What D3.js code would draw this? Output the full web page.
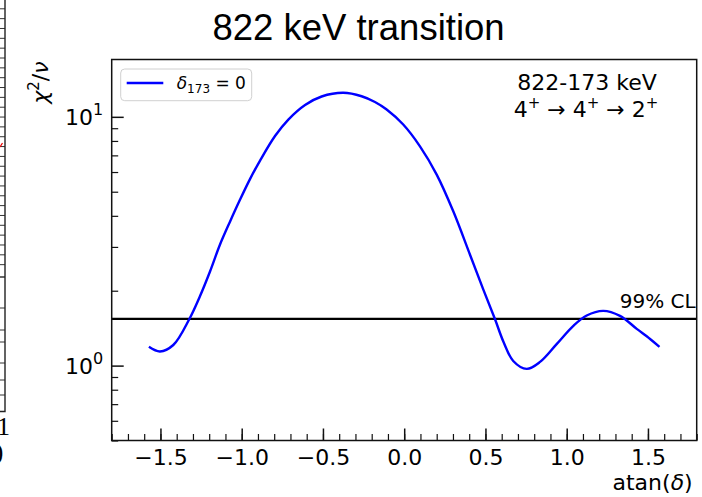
<!DOCTYPE html>
<html>
<head>
<meta charset="utf-8">
<script src="https://cdn.jsdelivr.net/npm/d3@7"></script>
<style>
  body { margin: 0; background: #fff; }
  svg { display: block; }
  text { font-family: "DejaVu Sans", sans-serif; fill: #000; }
</style>
</head>
<body>
<svg id="chart" width="702" height="497"></svg>
<script>
// chi^2 per degree of freedom versus mixing angle atan(delta) for the 822 keV line
const atanDelta = [-1.571, -1.503, -1.421, -1.322, -1.257, -1.195, -1.134, -1.072, -1.010, -0.949,
                   -0.887, -0.795, -0.713, -0.610, -0.508, -0.375, -0.262, -0.180, -0.108,
                   -0.006, 0.097, 0.200, 0.302, 0.405, 0.487, 0.559, 0.610, 0.671, 0.754,
                   0.836, 0.938, 1.041, 1.123, 1.225, 1.328, 1.431, 1.513, 1.571];
const chi2 = [1.19, 1.14, 1.21, 1.54, 1.90, 2.39, 3.06, 3.79, 4.65, 5.62,
              6.67, 8.37, 9.75, 11.16, 12.07, 12.49, 12.10, 11.47, 10.70,
              9.31, 7.61, 5.86, 4.17, 2.79, 2.02, 1.535, 1.25, 1.044, 0.97,
              1.035, 1.22, 1.445, 1.59, 1.66, 1.585, 1.405, 1.28, 1.19];
const confidenceLimit = 1.54;           // 99% CL level
const xTickValues = [-1.5, -1.0, -0.5, 0.0, 0.5, 1.0, 1.5];
const yMajorTicks = [1, 10];
const yMinorTicks = [0.5, 0.6, 0.7, 0.8, 0.9, 2, 3, 4, 5, 6, 7, 8, 9];
const xDomain = [-1.8, 1.8];
const yDomain = [0.5, 17];

const svg = d3.select("#chart");
const plotL = 111.7, plotR = 696.7, plotT = 59.5, plotB = 440.5;
const ink = "#111";

const x = d3.scaleLinear().domain(xDomain).range([plotL, plotR]);
const y = d3.scaleLog().domain(yDomain).range([plotB, plotT]);

// ---- sliver of the neighbouring panel on the far left ----
const nb = svg.append("g");
const nbScale = d3.scaleLinear().domain([0, 27]).range([8.3, 274]);
nb.append("g")
  .attr("transform", "translate(5,0)")
  .call(d3.axisRight(nbScale).tickValues(d3.range(0, 27)).tickSize(-5).tickFormat(""))
  .call(g => g.select(".domain").remove())
  .selectAll("line").attr("stroke", "#333").attr("stroke-width", 1);
const nbLower = [277, 308, 330, 342, 363, 380, 395];
nb.selectAll("line.low").data(nbLower).join("line")
  .attr("x1", (d, i) => i === 0 ? -5 : 0).attr("x2", 5)
  .attr("y1", d => d).attr("y2", d => d)
  .attr("stroke", "#333").attr("stroke-width", (d, i) => i === 0 ? 1.5 : 1);
nb.append("path").attr("d", "M5,0V411.5H0").attr("fill", "none").attr("stroke", "#222").attr("stroke-width", 1.4);
nb.append("line").attr("x1", 0).attr("x2", 2.5).attr("y1", 147).attr("y2", 143)
  .attr("stroke", "#e00").attr("stroke-width", 1.2);
nb.append("text").attr("x", 10).attr("y", 435).attr("text-anchor", "end")
  .style("font-family", "'Liberation Serif', serif").style("font-size", "26px").text("1");
nb.append("text").attr("x", 3.5).attr("y", 460).attr("text-anchor", "end")
  .style("font-family", "'Liberation Serif', serif").style("font-size", "26px").text(")");

// ---- title ----
svg.append("text")
  .attr("x", 358.5).attr("y", 39.5).attr("text-anchor", "middle")
  .style("font-family", "'Liberation Sans', Arial, sans-serif").style("font-size", "36.5px")
  .text("822 keV transition");

// ---- x axis (ticks pointing inward) ----
const xAxis = svg.append("g").attr("transform", `translate(0,${plotB})`);
xAxis.call(d3.axisBottom(x).tickValues(d3.range(-18, 19).map(v => v / 10)).tickSize(-6.5).tickFormat(""))
  .call(g => g.select(".domain").remove())
  .selectAll("line").attr("stroke", ink).attr("stroke-width", 1.2);
const xMajor = svg.append("g").attr("transform", `translate(0,${plotB})`);
xMajor.call(d3.axisBottom(x).tickValues(xTickValues).tickSize(-12).tickPadding(0).tickFormat(d3.format(".1f")))
  .call(g => g.select(".domain").remove());
xMajor.selectAll("line").attr("stroke", ink).attr("stroke-width", 1.5);
xMajor.selectAll("text").attr("y", 24.5).attr("dy", null)
  .style("font-family", "'DejaVu Sans', sans-serif").style("font-size", "22px").attr("fill", "#000");

// ---- y axis (log, ticks pointing inward) ----
const yMinorG = svg.append("g").attr("transform", `translate(${plotL},0)`);
yMinorG.call(d3.axisLeft(y).tickValues(yMinorTicks).tickSize(-6.5).tickFormat(""))
  .call(g => g.select(".domain").remove())
  .selectAll("line").attr("stroke", ink).attr("stroke-width", 1.2);
const yMajorG = svg.append("g").attr("transform", `translate(${plotL},0)`);
yMajorG.call(d3.axisLeft(y).tickValues(yMajorTicks).tickSize(-12).tickFormat(""))
  .call(g => g.select(".domain").remove())
  .selectAll("line").attr("stroke", ink).attr("stroke-width", 1.5);
yMajorG.selectAll(".tick").each(function(d) {
  const t = d3.select(this).append("text")
    .attr("x", -8.5).attr("y", 8).attr("text-anchor", "end")
    .style("font-size", "22px").attr("fill", "#000");
  t.append("tspan").text("10");
  t.append("tspan").attr("dy", -10).style("font-size", "16px").text(String(Math.round(Math.log10(d))));
});

// ---- 99% confidence level ----
svg.append("line")
  .attr("x1", plotL).attr("x2", plotR)
  .attr("y1", y(confidenceLimit)).attr("y2", y(confidenceLimit))
  .attr("stroke", "#000").attr("stroke-width", 2.2);
svg.append("text")
  .attr("x", plotR - 1).attr("y", y(confidenceLimit) - 11).attr("text-anchor", "end")
  .style("font-size", "20px").text("99% CL");

// ---- chi^2 curve ----
const line = d3.line()
  .x((d, i) => x(atanDelta[i]))
  .y(d => y(d))
  .curve(d3.curveCatmullRom.alpha(0.5));
svg.append("path")
  .datum(chi2)
  .attr("d", line)
  .attr("fill", "none")
  .attr("stroke", "#0000ff")
  .attr("stroke-width", 2.4)
  .attr("stroke-linejoin", "round");

// ---- frame ----
svg.append("rect")
  .attr("x", plotL).attr("y", plotT).attr("width", plotR - plotL).attr("height", plotB - plotT)
  .attr("fill", "none").attr("stroke", ink).attr("stroke-width", 1.5);

// ---- legend ----
const lg = svg.append("g").attr("transform", "translate(120.7,69)");
lg.append("rect").attr("width", 131).attr("height", 31.7).attr("rx", 4)
  .attr("fill", "#fff").attr("fill-opacity", 0.8).attr("stroke", "#d0d0d0").attr("stroke-width", 1);
lg.append("line").attr("x1", 6).attr("x2", 42.6).attr("y1", 14).attr("y2", 14)
  .attr("stroke", "#0000ff").attr("stroke-width", 2.4);
const lt = lg.append("text").attr("x", 56).attr("y", 19.5).style("font-size", "17px");
lt.append("tspan").style("font-style", "italic").text("δ");
lt.append("tspan").attr("dy", 4).style("font-size", "12px").text("173");
lt.append("tspan").attr("dy", -4).text(" = 0");

// ---- transition annotation ----
svg.append("text").attr("x", 587).attr("y", 89.5).attr("text-anchor", "middle")
  .style("font-size", "22px").text("822-173 keV");
const ann2 = svg.append("text").attr("x", 586).attr("y", 116.5).attr("text-anchor", "middle")
  .style("font-size", "22px");
ann2.append("tspan").text("4");
ann2.append("tspan").attr("dy", -9).style("font-size", "15px").text("+");
ann2.append("tspan").attr("dy", 9).text(" → 4");
ann2.append("tspan").attr("dy", -9).style("font-size", "15px").text("+");
ann2.append("tspan").attr("dy", 9).text(" → 2");
ann2.append("tspan").attr("dy", -9).style("font-size", "15px").text("+");

// ---- axis labels ----
const yl = svg.append("text")
  .attr("transform", `translate(48,${plotT + 2}) rotate(-90)`)
  .attr("text-anchor", "end").style("font-size", "22px");
yl.append("tspan").style("font-style", "italic").text("χ");
yl.append("tspan").attr("dy", -9).style("font-size", "15px").text("2");
yl.append("tspan").attr("dy", 9).text("/");
yl.append("tspan").style("font-style", "italic").text("ν");

const xl = svg.append("text")
  .attr("x", plotR - 4).attr("y", 490).attr("text-anchor", "end")
  .style("font-size", "22px");
xl.append("tspan").text("atan(");
xl.append("tspan").style("font-style", "italic").text("δ");
xl.append("tspan").text(")");
</script>
</body>
</html>
